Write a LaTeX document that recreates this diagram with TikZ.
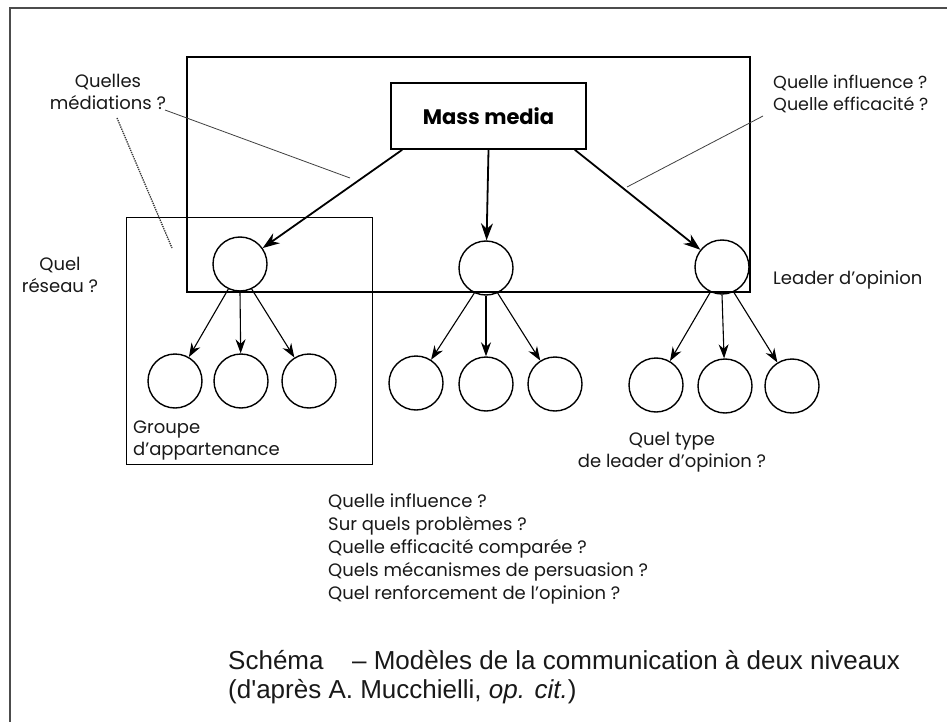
\documentclass[tikz,border=0pt]{standalone}
\usepackage{fontspec}
\setmainfont{Poppins}
\newfontfamily\capfont{Liberation Sans}
\usetikzlibrary{arrows.meta}
\begin{document}
\begin{tikzpicture}[x=1pt,y=-1pt,
  lbl/.style={font=\fontsize{18}{22}\selectfont, inner sep=0pt, align=center, text=black!90},
  circ/.style={circle, draw, line width=1.4pt, minimum size=54pt, inner sep=0pt},
  bigarrow/.style={-{Stealth[length=17pt,width=12pt]}, line width=1.8pt},
  smallarrow/.style={-{Stealth[length=14pt,width=10pt]}, line width=1.1pt},
  thinline/.style={line width=0.8pt, black!75},
  frameline/.style={line width=2.6pt, black!70}]
\useasboundingbox (0,0) rectangle (952,722);
\fill[white] (0,0) rectangle (952,722);
% outer frame
\coordinate (fbl) at (10,722);
\coordinate (ftl) at (10,8);
\coordinate (ftr) at (947,8);
\draw[frameline] (fbl) -- (ftl) -- (ftr);
% big rectangle
\draw[line width=1.6pt] (187,57) rectangle (750,292);
% group rectangle
\draw[line width=1pt] (126,217) rectangle (372,464);
% mass media
\node[draw, line width=1.6pt, minimum width=195pt, minimum height=66pt, inner sep=0pt,
      font=\fontsize{21}{24}\selectfont\bfseries] (mm) at (488.5,116) {Mass media};
% leader circles
\node[circ] (c1) at (240,264) {};
\node[circ] (c2) at (486,268) {};
\node[circ] (c3) at (722,267) {};
% bottom circles
\node[circ] (b1) at (175,381) {};
\node[circ] (b2) at (241,381) {};
\node[circ] (b3) at (309,381) {};
\node[circ] (b4) at (416,383) {};
\node[circ] (b5) at (486,384) {};
\node[circ] (b6) at (555,384) {};
\node[circ] (b7) at (656,385) {};
\node[circ] (b8) at (725,386) {};
\node[circ] (b9) at (792,386) {};
% arrows from mass media
\draw[bigarrow] ([xshift=12pt]mm.south west) -- (c1);
\draw[bigarrow] (mm.south) -- (c2);
\draw[bigarrow] ([xshift=-12pt]mm.south east) -- (c3);
% arrows to bottom circles
\draw[smallarrow] (c1.245) -- (b1);
\draw[smallarrow] (c1.south) -- (b2);
\draw[smallarrow] (c1.295) -- (b3);
\draw[smallarrow] (c2.245) -- (b4);
\draw[smallarrow] (c2.south) -- (b5);
\draw[smallarrow] (c2.295) -- (b6);
\draw[smallarrow] (c3.245) -- (b7);
\draw[smallarrow] (c3.south) -- (b8);
\draw[smallarrow] (c3.295) -- (b9);
% labels
\node[lbl] (med) at (108,92) {Quelles\\médiations ?};
\node[lbl] (res) at (60,275) {Quel\\réseau ?};
\node[lbl, align=left, anchor=west, font=\fontsize{17.5}{22}\selectfont] (infl) at (773,94) {Quelle influence ?\\Quelle efficacité ?};
\node[lbl, anchor=west] (lead) at (773,280) {Leader d'opinion};
\node[lbl, align=left, anchor=west] (grp) at (133,440) {Groupe\\d'appartenance};
\node[lbl] (type) at (672,452) {Quel type\\de leader d'opinion ?};
\node[lbl, align=left, anchor=west, font=\fontsize{18}{23}\selectfont] (quest) at (328,549)
  {Quelle influence ?\\Sur quels problèmes ?\\Quelle efficacité comparée ?\\Quels mécanismes de persuasion ?\\Quel renforcement de l'opinion ?};
% annotation lines
\coordinate (medA) at (165,110);
\coordinate (medB) at (350,178);
\draw[thinline] (medA) -- (medB);
\coordinate (dotA) at (117,118);
\coordinate (dotB) at (172,248);
\draw[black!80, densely dotted, line width=1.3pt] (dotA) -- (dotB);
\coordinate (inA) at (763,116);
\coordinate (inB) at (627,187);
\draw[thinline] (inA) -- (inB);
% caption
\node[font=\capfont\fontsize{26}{29}\selectfont, align=left, anchor=west, inner sep=0pt, text=black!90] (cap) at (228,677)
  {Schéma\hspace{1.1em}– Modèles de la communication à deux niveaux\\(d'après A. Mucchielli, \textit{op. cit.})};
\end{tikzpicture}
\end{document}
